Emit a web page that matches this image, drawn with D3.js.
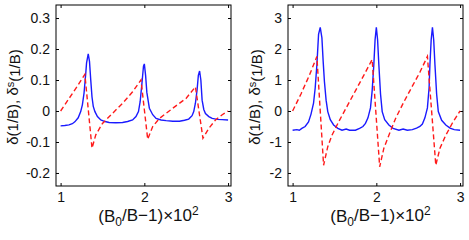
<!DOCTYPE html>
<html>
<head>
<meta charset="utf-8">
<script src="https://cdn.jsdelivr.net/npm/d3@7"></script>
<style>
  body { margin: 0; background: #fff; }
  text { font-family: "Liberation Sans", Arial, Helvetica, sans-serif; fill: #111; }
</style>
</head>
<body>
<svg id="chart" width="469" height="240"></svg>
<script>
// x ticks shared by both panels
var xTicks = [1, 2, 3];
var yTicksA = [-0.2, -0.1, 0, 0.1, 0.2, 0.3];
var yTicksB = [-2, -1, 0, 1, 2, 3];

// left panel, solid blue (delta)
var blueAX = [1.00,1.05,1.10,1.14,1.17,1.21,1.24,1.26,1.28,1.30,1.31,1.33,1.345,1.36,1.375,1.39,1.41,1.44,1.48,1.53,1.58,1.66,1.74,1.80,1.86,1.90,1.93,1.95,1.97,1.99,2.00,2.015,2.03,2.06,2.10,2.14,2.20,2.26,2.34,2.42,2.48,2.53,2.57,2.59,2.61,2.63,2.645,2.66,2.675,2.69,2.71,2.73,2.77,2.81,2.87,2.93,3.00];
var blueAY = [-0.048,-0.047,-0.045,-0.041,-0.035,-0.022,-0.002,0.020,0.058,0.120,0.155,0.184,0.160,0.100,0.045,0.015,-0.002,-0.018,-0.029,-0.034,-0.037,-0.038,-0.037,-0.034,-0.029,-0.018,-0.002,0.030,0.085,0.145,0.152,0.115,0.060,0.009,-0.012,-0.024,-0.029,-0.031,-0.033,-0.033,-0.030,-0.026,-0.015,-0.002,0.025,0.068,0.115,0.129,0.100,0.035,0.005,-0.008,-0.018,-0.024,-0.027,-0.028,-0.029];

// left panel, dashed red (delta^s)
var redAX = [1.00,1.10,1.20,1.29,1.375,1.42,1.50,1.60,1.74,1.86,1.96,2.04,2.10,2.18,2.34,2.50,2.61,2.70,2.77,2.85,2.93,3.00];
var redAY = [0.000,0.040,0.080,0.118,-0.120,-0.077,-0.040,-0.013,0.025,0.062,0.100,-0.091,-0.050,-0.024,0.009,0.041,0.078,-0.088,-0.056,-0.029,-0.012,0.000];

// right panel, solid blue
var blueBX = [1.00,1.05,1.08,1.11,1.15,1.19,1.22,1.25,1.27,1.29,1.31,1.33,1.35,1.365,1.38,1.40,1.42,1.45,1.49,1.54,1.59,1.64,1.68,1.75,1.80,1.84,1.87,1.90,1.93,1.95,1.97,1.985,2.00,2.015,2.03,2.05,2.07,2.10,2.15,2.20,2.27,2.32,2.37,2.43,2.48,2.52,2.55,2.58,2.61,2.63,2.64,2.655,2.67,2.685,2.70,2.72,2.74,2.78,2.83,2.88,2.93,3.00];
var blueBY = [-0.62,-0.60,-0.62,-0.56,-0.50,-0.35,-0.10,0.25,0.75,1.49,2.47,2.70,2.36,1.60,0.95,0.35,-0.02,-0.28,-0.45,-0.56,-0.62,-0.58,-0.62,-0.62,-0.56,-0.50,-0.40,-0.22,0.10,0.65,1.49,2.30,2.70,2.30,1.49,0.55,-0.02,-0.28,-0.45,-0.56,-0.62,-0.58,-0.62,-0.60,-0.55,-0.50,-0.42,-0.22,0.10,0.75,1.49,2.30,2.70,2.30,1.49,0.55,-0.02,-0.30,-0.45,-0.55,-0.60,-0.62];

// right panel, dashed red
var redBX = [1.00,1.10,1.20,1.29,1.37,1.42,1.47,1.55,1.65,1.75,1.85,1.95,2.04,2.09,2.15,2.23,2.33,2.43,2.52,2.61,2.71,2.76,2.83,2.91,3.00];
var redBY = [0.00,0.55,1.15,1.76,-1.75,-1.15,-0.78,-0.35,0.15,0.65,1.15,1.66,-1.80,-1.20,-0.78,-0.24,0.30,0.80,1.25,1.76,-1.75,-1.20,-0.78,-0.38,0.00];

var svg = d3.select("#chart");

function panel(left, yDomain, yTicks, blueX, blueY, redX, redY, labelX) {
    var x = d3.scaleLinear().domain([0.945, 3.035]).range([left, left + 175]);
    var y = d3.scaleLinear().domain(yDomain).range([186, 5]);
    var g = svg.append("g");

    // frame
    g.append("rect")
        .attr("x", left).attr("y", 5)
        .attr("width", 175).attr("height", 181)
        .attr("fill", "none").attr("stroke", "#000").attr("stroke-width", 1);

    var fmt = function(d) { return String(d); };

    // axes with inward ticks, mirrored on the opposite side
    g.append("g")
        .attr("transform", "translate(0,186)")
        .call(d3.axisBottom(x).tickValues(xTicks).tickSizeInner(-3).tickSizeOuter(0).tickPadding(6).tickFormat(fmt));
    g.append("g")
        .attr("transform", "translate(0,5)")
        .call(d3.axisTop(x).tickValues(xTicks).tickSizeInner(-3).tickSizeOuter(0).tickFormat(""));
    g.append("g")
        .attr("transform", "translate(" + left + ",0)")
        .call(d3.axisLeft(y).tickValues(yTicks).tickSizeInner(-3).tickSizeOuter(0).tickPadding(6).tickFormat(fmt));
    g.append("g")
        .attr("transform", "translate(" + (left + 175) + ",0)")
        .call(d3.axisRight(y).tickValues(yTicks).tickSizeInner(-3).tickSizeOuter(0).tickFormat(""));

    g.selectAll(".domain").remove();
    g.selectAll(".tick line").attr("stroke", "#000");
    g.selectAll(".tick text").style("font-size", "14px").attr("fill", "#111");

    var line = d3.line()
        .x(function(d) { return x(d[0]); })
        .y(function(d) { return y(d[1]); });

    g.append("path")
        .datum(blueX.map(function(v, i) { return [v, blueY[i]]; }))
        .attr("d", line)
        .attr("fill", "none")
        .attr("stroke", "#1a1aff")
        .attr("stroke-width", 1.4);

    g.append("path")
        .datum(redX.map(function(v, i) { return [v, redY[i]]; }))
        .attr("d", line)
        .attr("fill", "none")
        .attr("stroke", "#ff1a1a")
        .attr("stroke-width", 1.4)
        .attr("stroke-dasharray", "5,3");

    // y label
    var yl = g.append("text")
        .attr("transform", "translate(" + labelX + ",97) rotate(-90)")
        .attr("text-anchor", "middle")
        .attr("dy", "0.35em")
        .style("font-size", "15px");
    yl.append("tspan").text("\u03b4(1/B), \u03b4");
    yl.append("tspan").attr("dy", "-0.4em").style("font-size", "11px").text("s");
    yl.append("tspan").attr("dy", "0.4em").text("(1/B)");

    // x label
    var xl = g.append("text")
        .attr("x", x(2.05))
        .attr("y", 222)
        .attr("text-anchor", "middle")
        .style("font-size", "17px");
    xl.append("tspan").text("(B");
    xl.append("tspan").attr("dy", "0.3em").style("font-size", "12px").text("0");
    xl.append("tspan").attr("dy", "-0.3em").text("/B\u22121)\u00d710");
    xl.append("tspan").attr("dy", "-0.45em").style("font-size", "12px").text("2");
}

panel(56, [-0.242, 0.342], yTicksA, blueAX, blueAY, redAX, redAY, 13);
panel(288, [-2.42, 3.42], yTicksB, blueBX, blueBY, redBX, redBY, 255);
</script>
</body>
</html>
